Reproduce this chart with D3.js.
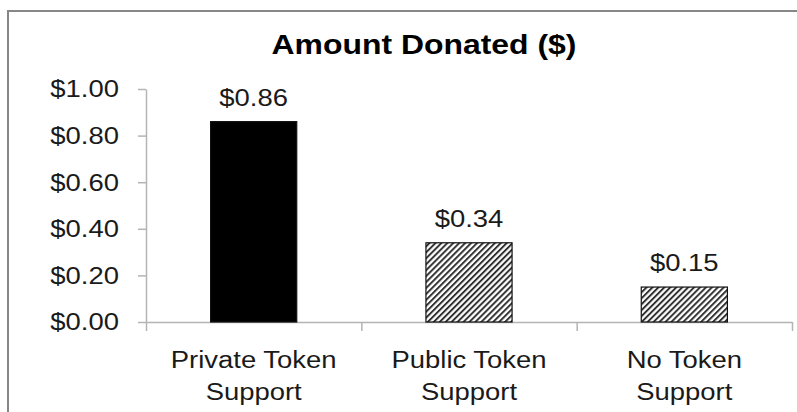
<!DOCTYPE html>
<html lang="en">
<head>
    <meta charset="UTF-8">
    <title>Amount Donated</title>
    <script src="https://d3js.org/d3.v7.min.js"></script>
    <style>
    body{
        margin: 0;
        background: #fff;
    }
    svg text{
        font-family: "Liberation Sans", Arial, Helvetica, sans-serif;
        fill: #1a1a1a;
    }
    .wide{
        transform-box: fill-box;
        transform-origin: 50% 50%;
        transform: scaleX(1.12);
    }
    .axis path,
    .axis line{
        fill: none;
        stroke: #b4b4b4;
        stroke-width: 1.5px;
    }
    .yaxis text{
        font-size: 24.5px;
        transform-box: fill-box;
        transform-origin: 100% 50%;
        transform: scaleX(1.12);
    }
    .catLabel{
        font-size: 24.5px;
    }
    .label{
        font-size: 24.5px;
    }
    .title{
        font-size: 28.5px;
        font-weight: bold;
        fill: #000;
    }
    </style>
</head>
<body>
<script>
    var width = 797;
    var height = 412;

    // data
    var categories = ["Private Token Support", "Public Token Support", "No Token Support"];
    var lines = [["Private Token", "Support"], ["Public Token", "Support"], ["No Token", "Support"]];
    var amounts = [0.86, 0.34, 0.15];
    var fills = ["solid", "hatch", "hatch"];
    var yTicks = [0, 0.2, 0.4, 0.6, 0.8, 1.0];

    // plot area
    var plotLeft = 146, plotRight = 792, plotTop = 89, plotBottom = 322;

    var svg = d3.select("body").append("svg")
        .attr("width", width)
        .attr("height", height);

    // hatch pattern
    var defs = svg.append("defs");
    defs.append("pattern")
        .attr("id", "hatch")
        .attr("patternUnits", "userSpaceOnUse")
        .attr("width", 4.2)
        .attr("height", 4.2)
        .attr("patternTransform", "rotate(45)")
        .call(function(p){
            p.append("rect").attr("width", 4.2).attr("height", 4.2).attr("fill", "#fff");
            p.append("line").attr("x1", 1).attr("x2", 1).attr("y1", 0).attr("y2", 4.2)
                .attr("stroke", "#2a2a2a").attr("stroke-width", 1.9);
        });

    // outer frame
    svg.append("rect")
        .attr("x", 8).attr("y", 11)
        .attr("width", 820).attr("height", 430)
        .attr("fill", "none")
        .attr("stroke", "#878787")
        .attr("stroke-width", 2);

    // scales
    var xScale = d3.scaleBand()
        .domain(categories)
        .range([plotLeft, plotRight])
        .paddingInner(0.6)
        .paddingOuter(0.3);

    var yScale = d3.scaleLinear()
        .domain([0, 1])
        .range([plotBottom, plotTop]);

    // group boundaries for the category tick marks
    var groupScale = d3.scaleLinear()
        .domain([0, categories.length])
        .range([plotLeft, plotRight]);

    // y axis
    svg.append("g")
        .attr("class", "axis yaxis")
        .attr("transform", "translate(" + plotLeft + ",0)")
        .call(d3.axisLeft(yScale)
            .tickValues(yTicks)
            .tickSize(8)
            .tickSizeOuter(0)
            .tickPadding(19)
            .tickFormat(d3.format("$.2f")));

    // x axis (line + boundary ticks)
    svg.append("g")
        .attr("class", "axis")
        .attr("transform", "translate(0," + plotBottom + ")")
        .call(d3.axisBottom(groupScale)
            .tickValues(d3.range(categories.length + 1))
            .tickSize(9)
            .tickSizeOuter(0)
            .tickFormat(""));

    // category labels
    var xAxis = svg.append("g")
        .attr("class", "xlabels")
        .attr("transform", "translate(0," + plotBottom + ")")
        .call(d3.axisBottom(xScale).tickSize(0).tickPadding(0));
    xAxis.select(".domain").remove();
    xAxis.selectAll(".tick text")
        .attr("class", "catLabel wide")
        .attr("y", 46)
        .attr("dy", 0)
        .text(null)
        .each(function(d, i){
            var t = d3.select(this);
            lines[i].forEach(function(s, j){
                t.append("tspan").attr("x", 0).attr("dy", j === 0 ? 0 : 32).text(s);
            });
        });

    // bars
    svg.append("g")
        .selectAll("rect")
        .data(amounts).enter()
        .append("rect")
        .attr("x", function(d, i){ return xScale(categories[i]); })
        .attr("y", function(d){ return yScale(d); })
        .attr("width", xScale.bandwidth())
        .attr("height", function(d){ return yScale(0) - yScale(d); })
        .attr("fill", function(d, i){ return fills[i] === "solid" ? "#000" : "url(#hatch)"; })
        .attr("stroke", "#111")
        .attr("stroke-width", 1.2);

    // value labels
    svg.append("g")
        .selectAll("text")
        .data(amounts).enter()
        .append("text")
        .attr("class", "label wide")
        .attr("text-anchor", "middle")
        .attr("x", function(d, i){ return xScale(categories[i]) + xScale.bandwidth() / 2; })
        .attr("y", function(d){ return yScale(d) - 16; })
        .text(d3.format("$.2f"));

    // title
    svg.append("text")
        .attr("class", "title wide")
        .attr("text-anchor", "middle")
        .attr("x", 424)
        .attr("y", 54.5)
        .text("Amount Donated ($)");
</script>
</body>
</html>
